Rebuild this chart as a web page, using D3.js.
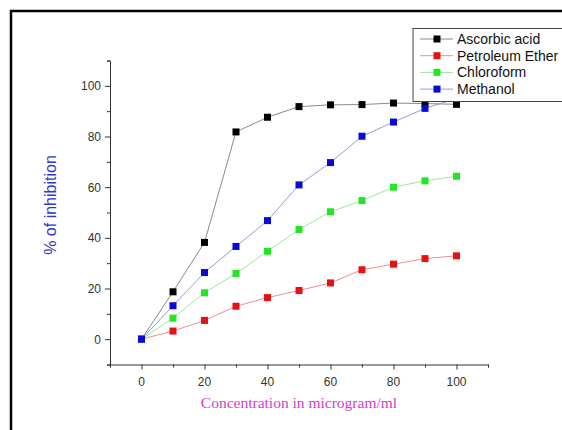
<!DOCTYPE html>
<html>
<head>
<meta charset="utf-8">
<title>% of inhibition vs concentration</title>
<style>
body, html {
  margin: 0;
  padding: 0;
  background: #fff;
}
svg {
  display: block;
}
.tick-label {
  font-family: "Liberation Sans", Arial, sans-serif;
  font-size: 12px;
  fill: #333;
}
.legend-text {
  font-family: "Liberation Sans", Arial, sans-serif;
  font-size: 14px;
  fill: #111;
}
</style>
<script src="https://d3js.org/d3.v7.min.js"></script>
</head>
<body>
<script>

var concentration = [0, 10, 20, 30, 40, 50, 60, 70, 80, 90, 100];
var ascorbicAcid = [0, 18.7, 38.2, 81.8, 87.6, 91.8, 92.5, 92.6, 93.2, 93.0, 92.7];
var petroleumEther = [0, 3.2, 7.4, 13.0, 16.4, 19.2, 22.2, 27.4, 29.6, 31.8, 32.9];
var chloroform = [0, 8.3, 18.3, 25.9, 34.7, 43.3, 50.3, 54.7, 60.0, 62.5, 64.3];
var methanol = [0, 13.2, 26.3, 36.6, 46.8, 60.9, 69.7, 80.1, 85.7, 91.1, 95.0];

var seriesNames = ["Ascorbic acid", "Petroleum Ether", "Chloroform", "Methanol"];
var seriesValues = [ascorbicAcid, petroleumEther, chloroform, methanol];
var seriesColors = ["#000000", "#e81010", "#22e622", "#0a0ad8"];
var lineColors = ["#8a8a8a", "#e89090", "#9be89b", "#9a9ad8"];

var majorTicks = [0, 20, 40, 60, 80, 100];
var minorTicks = d3.range(-10, 111, 10);

var width = 562, height = 430;

var svg = d3.select("body").append("svg")
  .attr("width", width)
  .attr("height", height);

// outer frame
svg.append("path")
  .attr("d", "M11," + height + " L11,11 L" + width + ",11")
  .attr("fill", "none")
  .attr("stroke", "#000")
  .attr("stroke-width", 2.5);

var x = d3.scaleLinear().domain([-10, 110]).range([110, 488]);
var y = d3.scaleLinear().domain([-10, 110]).range([364.5, 60.5]);

// x axis
var xAxisG = svg.append("g").attr("transform", "translate(0," + y(-10) + ")");
xAxisG.call(d3.axisBottom(x).tickValues(minorTicks).tickSize(3).tickFormat(""));
xAxisG.call(function(g) {
  g.selectAll(".tick").filter(function(d) { return majorTicks.indexOf(d) >= 0; })
    .select("line").attr("y2", 5);
});
xAxisG.selectAll("path, line").attr("stroke", "#333");
xAxisG.selectAll(".tick text").remove();
svg.append("g").selectAll("text")
  .data(majorTicks)
  .join("text")
  .attr("class", "tick-label")
  .attr("x", function(d) { return x(d); })
  .attr("y", y(-10) + 21)
  .attr("text-anchor", "middle")
  .text(function(d) { return d; });

// y axis
var yAxisG = svg.append("g").attr("transform", "translate(" + x(-10) + ",0)");
yAxisG.call(d3.axisLeft(y).tickValues(minorTicks).tickSize(3).tickFormat(""));
yAxisG.call(function(g) {
  g.selectAll(".tick").filter(function(d) { return majorTicks.indexOf(d) >= 0; })
    .select("line").attr("x2", -5);
});
yAxisG.selectAll("path, line").attr("stroke", "#333");
yAxisG.selectAll(".tick text").remove();
svg.append("g").selectAll("text")
  .data(majorTicks)
  .join("text")
  .attr("class", "tick-label")
  .attr("x", x(-10) - 9)
  .attr("y", function(d) { return y(d) + 4.5; })
  .attr("text-anchor", "end")
  .text(function(d) { return d; });

// axis titles
svg.append("text")
  .attr("transform", "translate(56," + 205 + ") rotate(-90)")
  .attr("text-anchor", "middle")
  .attr("font-family", "'Liberation Sans', Arial, sans-serif")
  .attr("font-size", 16)
  .attr("fill", "#3434c8")
  .text("% of inhibition");

svg.append("text")
  .attr("x", 299)
  .attr("y", 408)
  .attr("text-anchor", "middle")
  .attr("font-family", "'Liberation Serif', 'Times New Roman', serif")
  .attr("font-size", 15.5)
  .attr("fill", "#d040d0")
  .text("Concentration in microgram/ml");

// series
var line = d3.line()
  .x(function(d, i) { return x(concentration[i]); })
  .y(function(d) { return y(d); });

var markerSize = 7;

seriesValues.forEach(function(vals, k) {
  svg.append("path")
    .datum(vals)
    .attr("fill", "none")
    .attr("stroke", lineColors[k])
    .attr("stroke-width", 1)
    .attr("d", line);

  svg.append("g").selectAll("rect")
    .data(vals)
    .join("rect")
    .attr("x", function(d, i) { return x(concentration[i]) - markerSize / 2; })
    .attr("y", function(d) { return y(d) - markerSize / 2; })
    .attr("width", markerSize)
    .attr("height", markerSize)
    .attr("fill", seriesColors[k]);
});

// legend
var legend = svg.append("g").attr("transform", "translate(413,28.5)");
legend.append("rect")
  .attr("x", 0)
  .attr("y", 0)
  .attr("width", 160)
  .attr("height", 73)
  .attr("fill", "#fff")
  .attr("stroke", "#444")
  .attr("stroke-width", 1);

var rows = legend.selectAll("g.row")
  .data(seriesNames)
  .join("g")
  .attr("class", "row")
  .attr("transform", function(d, i) { return "translate(0," + (10.5 + i * 16.7) + ")"; });

rows.append("line")
  .attr("x1", 7)
  .attr("x2", 40)
  .attr("y1", 0)
  .attr("y2", 0)
  .attr("stroke", function(d, i) { return lineColors[i]; })
  .attr("stroke-width", 1);

rows.append("rect")
  .attr("x", 24 - markerSize / 2)
  .attr("y", -markerSize / 2)
  .attr("width", markerSize)
  .attr("height", markerSize)
  .attr("fill", function(d, i) { return seriesColors[i]; });

rows.append("text")
  .attr("class", "legend-text")
  .attr("x", 44)
  .attr("y", 5)
  .text(function(d) { return d; });

</script>
</body>
</html>
